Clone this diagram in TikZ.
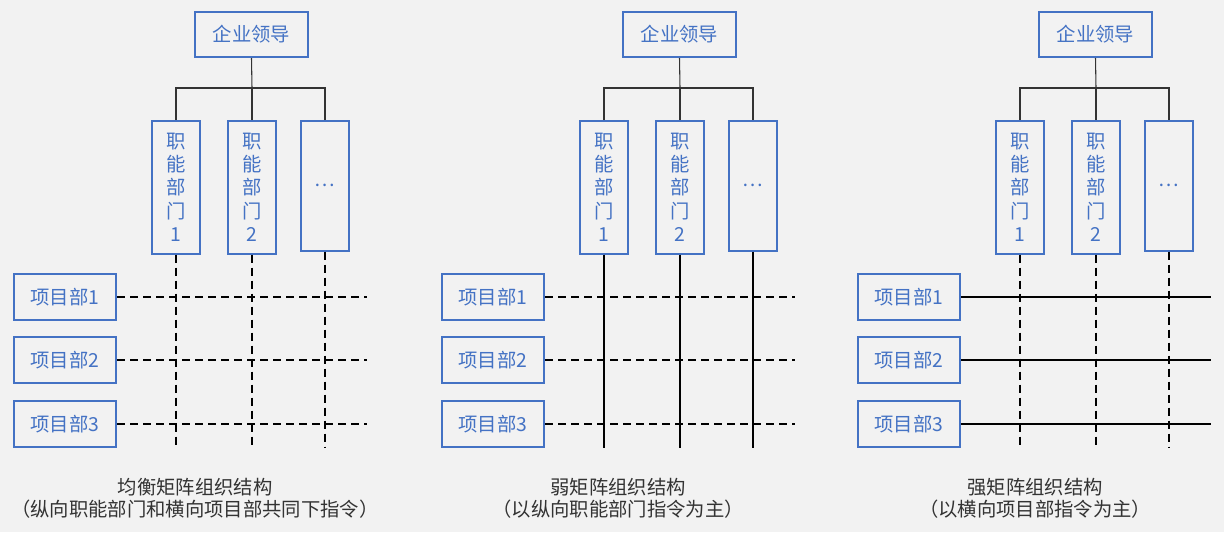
\documentclass[tikz,border=0pt]{standalone}
\usepackage{fontspec}
\setmainfont{Noto Sans CJK SC}
\definecolor{bblue}{HTML}{4472C4}
\definecolor{bgray}{HTML}{F2F2F2}
\tikzset{
bluebox/.style={draw=bblue,line width=1.5pt,text=bblue,inner sep=0pt,font=\fontsize{14.5}{17.5}\selectfont},
lead/.style={bluebox,minimum width=84.75pt,minimum height=33.75pt},
dept/.style={bluebox,minimum width=36pt,minimum height=99.75pt,align=center},
proj/.style={bluebox,minimum width=76.5pt,minimum height=34.5pt},
treeline/.style={line width=0.8pt,draw=black!80},
dline/.style={line width=1.5pt,dash pattern=on 6pt off 3.75pt},
sline/.style={line width=1.5pt},
captext/.style={text=black!80,font=\fontsize{14.5}{16}\selectfont}
}
\begin{document}
\begin{tikzpicture}[x=0.75pt,y=-0.75pt]%pixel units
\fill[bgray] (0,0) rectangle (1224,532);
\useasboundingbox (0,0) rectangle (1224,532);
\foreach \p/\dx/\vs/\hs/\cx/\ca/\cb in {a/0/dline/dline/195/均衡矩阵组织结构/（纵向职能部门和横向项目部共同下指令）,
b/428/sline/dline/618/弱矩阵组织结构/（以纵向职能部门指令为主）,
c/844/dline/sline/1035/强矩阵组织结构/（以横向项目部指令为主）}{
\node[lead] (lead\p) at (251.5+\dx,34.5) {企业领导};
\node[dept] (d1\p) at (176+\dx,187) {职\\能\\部\\门\\1};
\node[dept] (d2\p) at (252+\dx,187) {职\\能\\部\\门\\2};
\node[dept,minimum height=97.5pt] (dd\p) at (325+\dx,185.5) {…};
\coordinate (bus\p) at (252+\dx,88);
\coordinate (bot\p) at (0,448);
\coordinate (rt\p) at (367+\dx,0);
% tree
\draw[treeline] (lead\p.south) -- (bus\p);
\draw[treeline] (d1\p.north) |- (bus\p) -| (dd\p.north);
\draw[treeline] (d2\p.north) -- (bus\p);
% projects
\foreach \i/\y in {1/297,2/360,3/424}{
\node[proj] (p\i\p) at (65+\dx,\y) {项目部\i};
\draw[\hs] (p\i\p.east) -- (p\i\p.east -| rt\p);
}
\foreach \d in {d1,d2,dd}
\draw[\vs] (\d\p.south) -- (\d\p.south |- bot\p);
\node[captext] (ca\p) at (\cx,487) {\ca};
\node[captext] (cb\p) at (\cx,509) {\cb};
}
\end{tikzpicture}
\end{document}
